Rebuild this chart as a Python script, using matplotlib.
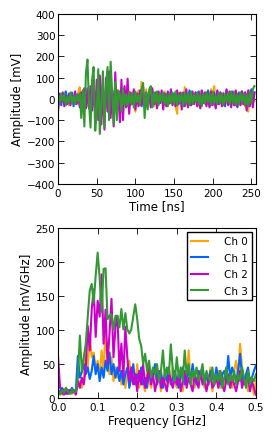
import numpy as np
import matplotlib
matplotlib.use("Agg")
import matplotlib.pyplot as plt

# time traces, 2 ns steps
time_ns = np.arange(0, 256, 2)
ch0_mv = [20, -25, 15, -10, 30, -20, 10, -30, 25, -15, 5, 20, -20, 30, 55,
          -30, 40, -20, 10, -35, 25, -10, 30, -25, 15, -20, 35, -15, 20, -30,
          25, -20, 30, -35, 40, -10, 20, -30, 45, -25, 15, -40, 30, -20, 25,
          -15, 35, -30, 20, -10, -60, 15, 40, -25, 80, 10, -30, 45, -20, 30,
          -25, 20, -35, 30, -15, 25, -20, 10, -30, 35, -20, 15, -25, 30, -10,
          20, -30, -70, 25, -15, 30, -20, 55, -25, 15, -10, 30, -25, 20, -15,
          25, -30, 35, -20, 10, -25, 30, -15, 20, 45, -20, 60, -30, 15, -25,
          20, -15, 30, -25, 15, -20, 25, -30, 10, 35, -20, 25, -15, 30, -25,
          20, -35, 15, -60, 40, -20, 30, -10]
ch1_mv = [-10, 25, -30, 15, -20, 35, -25, 20, -15, 30, -35, 25, -10, 20, -25,
          30, -40, 45, -30, 50, -45, 40, -35, 55, -40, 35, -30, 50, -45, 30,
          -35, 40, -25, 30, -40, 35, -20, 45, -30, 25, -35, 30, -20, 40, -25,
          30, -35, 20, -25, 35, -30, 25, -20, 30, -35, 15, -25, 30, -20, 25,
          -30, 35, -25, 20, -35, 30, -15, 25, -30, 20, -25, 35, -20, 30, -15,
          25, -30, 35, -20, 15, -25, 30, -35, 20, -15, 40, -30, 25, -20, 30,
          -25, 35, -30, 20, -15, 30, -25, 40, -35, 25, -20, 30, -40, 35, -25,
          30, -20, 25, -35, 40, -30, 20, -25, 35, -30, 25, -40, 30, -20, 35,
          -25, 30, -35, 20, -30, 45, -20, 30]
ch2_mv = [-55, 20, -15, 30, -35, 10, -20, 25, -30, 15, -10, 35, -25, 20, -40,
          30, -20, 50, -45, 40, -30, 60, -55, 70, -80, 90, -100, 110, -120, 60,
          -145, 100, -60, 130, -90, 40, -130, 125, -70, 30, -110, 90, -100, 60, -40,
          95, -70, 30, -20, 45, -50, 25, -35, 40, -30, 55, -45, 20, -30, 35,
          -40, 50, -25, 30, -45, 35, -20, 40, -50, 25, -35, 30, -20, 45, -30,
          20, -35, 40, -25, 30, -50, 25, -30, 45, -40, 20, -30, 35, -25, 30,
          -35, 25, -45, 40, -20, 30, -35, 25, -40, 35, -30, 20, -45, 40, -25,
          30, -35, 20, -30, 45, -25, 35, -40, 25, -30, 40, -35, 20, -30, 35,
          -25, 30, -55, 40, -35, 25, -40, 30]
ch3_mv = [15, -20, 25, -10, 20, -30, 10, -15, 30, -20, 15, -25, 20, -10, 25,
          -90, 40, -130, 120, 185, -20, -135, 90, 150, -150, -60, 140, -165, -20, 130,
          -135, 60, 150, -100, 175, 30, -120, 80, -100, 40, 20, -60, 50, -30, 20,
          -35, 30, -20, 25, -40, 35, -15, 20, -30, 40, 75, -90, 30, -50, 45,
          60, -40, 30, -20, 35, -30, 25, -15, 30, -25, 20, -35, 25, -20, 30,
          -25, 35, -30, 20, -15, 25, -35, 30, -20, 25, -30, 35, -25, 20, -15,
          30, -25, 20, -35, 25, -20, 30, -15, 25, -30, 35, -20, 15, -25, 30,
          -20, 25, -30, 20, -15, 30, -25, 35, -20, 25, -30, 20, -25, 30, -15,
          25, -30, 20, -35, 30, -20, 45, 60]

# spectra, 0.005 GHz steps
freq_ghz = np.linspace(0, 0.5, 101)
ch0_spec = [10, 8, 5, 12, 15, 8, 10, 6, 12, 10,
            20, 25, 15, 30, 72, 45, 94, 60, 67, 40,
            55, 30, 70, 40, 100, 50, 35, 60, 25, 45,
            30, 50, 20, 40, 15, 35, 55, 25, 45, 20,
            50, 15, 35, 20, 10, 40, 25, 15, 30, 45,
            20, 35, 10, 25, 40, 15, 30, 20, 45, 25,
            15, 35, 20, 10, 40, 25, 70, 20, 35, 15,
            30, 20, 40, 25, 15, 35, 20, 45, 10, 30,
            25, 40, 15, 30, 20, 45, 25, 35, 15, 40,
            55, 30, 80, 45, 20, 35, 10, 30, 20, 5,
            25]
ch1_spec = [12, 8, 15, 10, 6, 12, 8, 15, 10, 12,
            62, 30, 38, 50, 35, 45, 28, 40, 62, 35,
            50, 25, 45, 30, 55, 40, 67, 35, 50, 30,
            45, 25, 40, 20, 35, 45, 15, 30, 50, 20,
            35, 25, 45, 20, 30, 15, 40, 25, 35, 50,
            20, 30, 40, 15, 35, 25, 45, 20, 30, 40,
            25, 15, 35, 45, 20, 30, 40, 25, 50, 30,
            20, 40, 30, 45, 25, 35, 20, 40, 30, 25,
            45, 30, 20, 35, 40, 25, 62, 30, 45, 35,
            25, 40, 65, 30, 20, 35, 45, 25, 30, 40,
            48]
ch2_spec = [60, 15, 8, 5, 10, 6, 12, 8, 10, 5,
            25, 15, 30, 20, 45, 106, 70, 130, 160, 90,
            143, 120, 182, 80, 130, 50, 95, 146, 60, 105,
            121, 40, 80, 30, 105, 60, 25, 45, 20, 35,
            10, 40, 20, 50, 15, 30, 45, 20, 35, 10,
            25, 40, 15, 30, 20, 10, 35, 25, 15, 30,
            20, 35, 10, 25, 40, 15, 30, 20, 10, 35,
            25, 15, 40, 20, 30, 10, 25, 35, 15, 20,
            30, 15, 40, 20, 10, 25, 35, 15, 30, 20,
            10, 25, 40, 15, 30, 20, 35, 10, 25, 15,
            5]
ch3_spec = [10, 5, 12, 8, 15, 10, 6, 12, 8, 10,
            30, 92, 40, 60, 80, 120, 158, 168, 140, 180,
            214, 177, 126, 190, 191, 116, 121, 123, 101, 121,
            121, 104, 131, 101, 125, 101, 95, 101, 120, 138,
            116, 87, 77, 50, 65, 40, 55, 30, 45, 35,
            50, 25, 40, 70, 30, 45, 35, 79, 40, 25,
            60, 30, 45, 25, 70, 35, 50, 20, 40, 30,
            45, 25, 35, 50, 20, 40, 30, 25, 45, 20,
            35, 25, 40, 15, 30, 45, 20, 35, 25, 40,
            20, 35, 25, 45, 30, 15, 40, 20, 30, 25,
            35]

labels = ['Ch 0', 'Ch 1', 'Ch 2', 'Ch 3']
colors = ['#ffa500', '#0066ff', '#cc00cc', '#339933']

plt.rcParams['font.size'] = 7.5
plt.rcParams['xtick.direction'] = 'in'
plt.rcParams['ytick.direction'] = 'in'
plt.rcParams['xtick.top'] = True
plt.rcParams['ytick.right'] = True

fig = plt.figure(figsize=(2.74, 4.39), dpi=100)
ax1 = fig.add_axes([0.212, 0.579, 0.722, 0.387])
ax2 = fig.add_axes([0.212, 0.091, 0.722, 0.387])

for y, c, lab in zip([ch0_mv, ch1_mv, ch2_mv, ch3_mv], colors, labels):
    ax1.plot(time_ns, y, color=c, lw=1.5, label=lab)
ax1.set_xlim(0, 256)
ax1.set_ylim(-400, 400)
ax1.set_xticks([0, 50, 100, 150, 200, 250])
ax1.set_yticks(np.arange(-400, 401, 100))
ax1.set_xlabel('Time [ns]', fontsize=8.5, labelpad=1)
ax1.set_ylabel('Amplitude [mV]', fontsize=8.5, labelpad=2)

for y, c, lab in zip([ch0_spec, ch1_spec, ch2_spec, ch3_spec], colors, labels):
    ax2.plot(freq_ghz, y, color=c, lw=1.5, label=lab)
ax2.set_xlim(0, 0.5)
ax2.set_ylim(0, 250)
ax2.set_xticks([0.0, 0.1, 0.2, 0.3, 0.4, 0.5])
ax2.set_yticks(np.arange(0, 251, 50))
ax2.set_xlabel('Frequency [GHz]', fontsize=8.5, labelpad=1)
ax2.set_ylabel('Amplitude [mV/GHz]', fontsize=8.5, labelpad=2)
leg = ax2.legend(loc='upper right', fontsize=7.5, fancybox=False,
                 handlelength=1.6, handletextpad=1.5, labelspacing=0.62,
                 borderaxespad=0.4)
leg.get_frame().set_edgecolor('black')
leg.get_frame().set_alpha(1)

for ax in (ax1, ax2):
    ax.tick_params(length=4, width=0.6, pad=2)
    ax.tick_params(axis='x', pad=3)
    for s in ax.spines.values():
        s.set_linewidth(0.8)

fig.savefig('out.png', dpi=100)
